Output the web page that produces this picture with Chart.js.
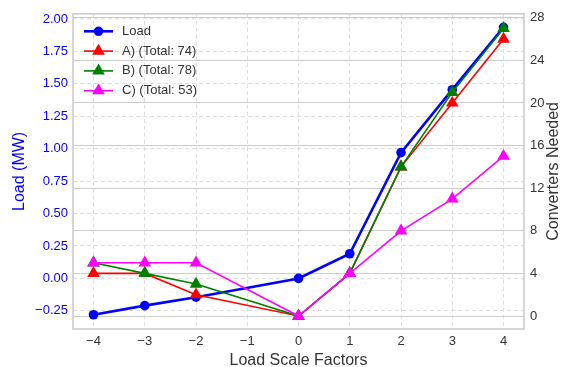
<!DOCTYPE html>
<html>
<head>
<meta charset="utf-8">
<script src="https://cdn.jsdelivr.net/npm/chart.js@4.4.0/dist/chart.umd.min.js"></script>
<style>
  html, body { margin: 0; padding: 0; background: #fff; }
  #grafico { display: block; }
</style>
</head>
<body>
<canvas id="grafico" width="565" height="367"></canvas>
<script>
// Datos
var factores = [-4, -3, -2, 0, 1, 2, 3, 4];
var carga = [-0.28, -0.21, -0.145, 0.0, 0.19, 0.97, 1.455, 1.935];
var convA = [4, 4, 2, 0, 4, 14, 20, 26];
var convB = [5, 4, 3, 0, 4, 14, 21, 27];
var convC = [5, 5, 5, 0, 4, 8, 11, 15];

var ticksX = [-4, -3, -2, -1, 0, 1, 2, 3, 4];
var ticksCarga = [-0.25, 0, 0.25, 0.5, 0.75, 1, 1.25, 1.5, 1.75, 2];
var ticksConv = [0, 4, 8, 12, 16, 20, 24, 28];

var etiquetas = ['Load', 'A) (Total: 74)', 'B) (Total: 78)', 'C) (Total: 53)'];
var colores = ['#0000ff', '#ff0000', '#008000', '#ff00ff'];
var tituloDerecho = 'Converters Needed';

var fuente = '"Liberation Sans", Arial, sans-serif';
Chart.defaults.font.family = fuente;
Chart.defaults.color = '#333';

function puntos(valores) {
    return factores.map(function (f, i) { return { x: f, y: valores[i] }; });
}

function conMenos(texto) {
    return String(texto).replace('-', '\u2212');
}

function fijarTicks(lista) {
    return function (scale) {
        scale.ticks = lista.map(function (v) { return { value: v }; });
    };
}

// Marco gris alrededor del area del grafico
var marco = {
    id: 'marco',
    beforeDatasetsDraw: function (chart) {
        var a = chart.chartArea;
        var ctx = chart.ctx;
        ctx.save();
        ctx.strokeStyle = '#cccccc';
        ctx.lineWidth = 1.6;
        ctx.strokeRect(a.left, a.top, a.right - a.left, a.bottom - a.top);
        ctx.restore();
    }
};

// Leyenda dibujada a mano: linea + marcador + texto
// y el titulo del eje derecho (leido de abajo hacia arriba)
var leyenda = {
    id: 'leyenda',
    afterDraw: function (chart) {
        var ctx = chart.ctx;
        var a = chart.chartArea;
        ctx.save();
        for (var i = 0; i < etiquetas.length; i++) {
            var y = 31.3 + i * 19.8;
            var ds = chart.data.datasets[i];
            ctx.strokeStyle = colores[i];
            ctx.lineWidth = ds.borderWidth;
            ctx.beginPath();
            ctx.moveTo(84, y);
            ctx.lineTo(113, y);
            ctx.stroke();
            ctx.fillStyle = colores[i];
            Chart.helpers.drawPoint(ctx, {
                pointStyle: ds.pointStyle,
                radius: ds.pointRadius,
                borderWidth: 0,
                rotation: 0
            }, 98.5, y);
            ctx.fillStyle = '#333';
            ctx.font = '13px ' + fuente;
            ctx.textBaseline = 'middle';
            ctx.textAlign = 'left';
            ctx.fillText(etiquetas[i], 122, y);
        }

        ctx.translate(554, (a.top + a.bottom) / 2);
        ctx.rotate(-Math.PI / 2);
        ctx.font = '16px ' + fuente;
        ctx.fillStyle = '#333';
        ctx.textAlign = 'center';
        ctx.textBaseline = 'middle';
        ctx.fillText(tituloDerecho, 0, 0);
        ctx.restore();
    }
};

function serie(i, valores, eje, estilo, radio, ancho, orden) {
    return {
        label: etiquetas[i],
        data: puntos(valores),
        yAxisID: eje,
        borderColor: colores[i],
        backgroundColor: colores[i],
        pointBackgroundColor: colores[i],
        pointBorderColor: colores[i],
        pointBorderWidth: 0,
        pointStyle: estilo,
        pointRadius: radio,
        pointHoverRadius: radio,
        borderWidth: ancho,
        tension: 0,
        clip: false,
        order: orden
    };
}

new Chart(document.getElementById('grafico'), {
    type: 'line',
    data: {
        datasets: [
            serie(0, carga, 'y', 'circle', 4.8, 2.6, 3),
            serie(1, convA, 'y1', 'triangle', 7.3, 1.6, 2),
            serie(2, convB, 'y1', 'triangle', 7.3, 1.6, 1),
            serie(3, convC, 'y1', 'triangle', 7.3, 1.6, 0)
        ]
    },
    options: {
        responsive: false,
        animation: false,
        layout: { padding: { top: 13, left: 0, right: 0, bottom: 0 } },
        plugins: {
            legend: { display: false },
            tooltip: { enabled: false }
        },
        scales: {
            x: {
                type: 'linear',
                min: -4.4,
                max: 4.4,
                afterBuildTicks: fijarTicks(ticksX),
                afterFit: function (scale) { scale.height = 38; },
                grid: { color: '#dddddd', lineWidth: 1, drawTicks: false },
                border: { display: false, dash: [4, 3] },
                ticks: {
                    padding: 5,
                    color: '#333',
                    font: { size: 13 },
                    callback: function (v) { return conMenos(v); }
                },
                title: {
                    display: true,
                    text: 'Load Scale Factors',
                    color: '#333',
                    font: { size: 16, lineHeight: 0.85 },
                    padding: { top: 0, bottom: 0 }
                }
            },
            y: {
                position: 'left',
                min: -0.39,
                max: 2.04,
                afterBuildTicks: fijarTicks(ticksCarga),
                afterFit: function (scale) { scale.width = 73; },
                grid: { color: '#dddddd', lineWidth: 1, drawTicks: false },
                border: { display: false, dash: [4, 3] },
                ticks: {
                    padding: 5,
                    color: '#0000ff',
                    font: { size: 13 },
                    callback: function (v) { return conMenos(v.toFixed(2)); }
                },
                title: {
                    display: true,
                    text: 'Load (MW)',
                    color: '#0000ff',
                    font: { size: 16, lineHeight: 1.2 },
                    padding: { top: 9.7, bottom: 0 }
                }
            },
            y1: {
                position: 'right',
                min: -1.22,
                max: 28.37,
                afterBuildTicks: fijarTicks(ticksConv),
                afterFit: function (scale) { scale.width = 41; },
                grid: { color: '#cccccc', lineWidth: 1, drawTicks: false },
                border: { display: false },
                ticks: {
                    padding: 6,
                    color: '#333',
                    font: { size: 13 }
                },
                title: { display: false }
            }
        }
    },
    plugins: [marco, leyenda]
});
</script>
</body>
</html>
